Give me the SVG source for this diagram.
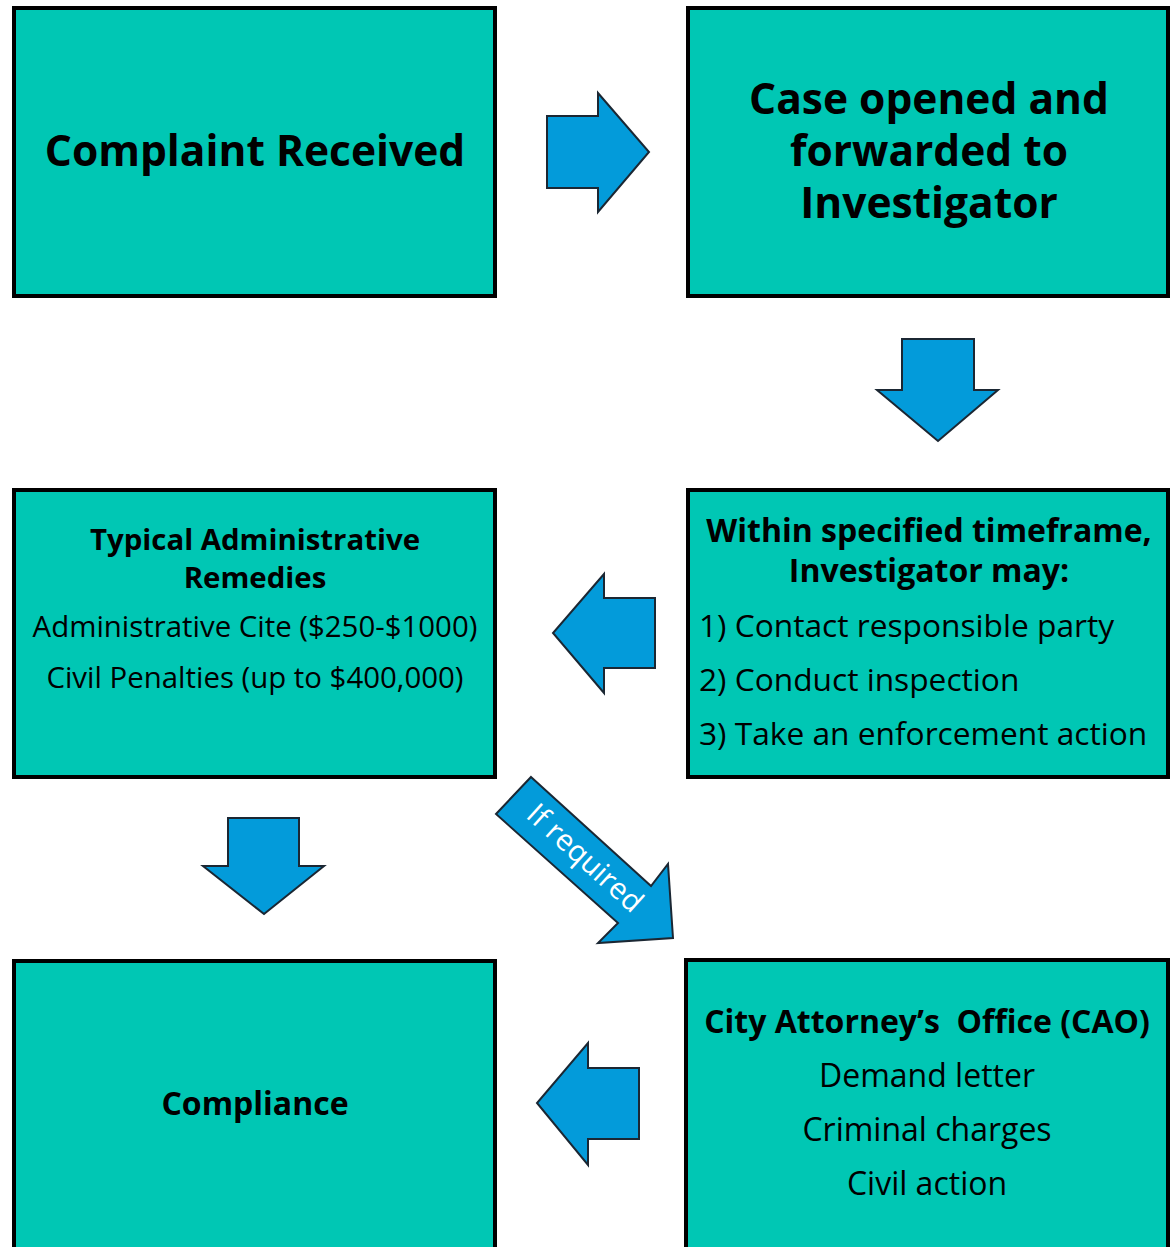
<svg xmlns="http://www.w3.org/2000/svg" width="1170" height="1247" viewBox="0 0 1170 1247">
<style>
.box{fill:#00C7B4;stroke:#000;stroke-width:4}
.arr{fill:#039BDA;stroke:#1b2733;stroke-width:2;stroke-linejoin:miter}
text{font-family:"Open Sans","Noto Sans","DejaVu Sans",sans-serif;fill:#000}
.b{font-weight:bold}
.c{text-anchor:middle}
.h1{font-size:42.5px}
.h2{font-size:29.4px}
.r{font-size:29.4px}
.l{font-size:32px}
.li{font-size:31.7px}
</style>
<rect width="1170" height="1247" fill="#fff"/>
<g id="complaint">
<rect class="box" x="14" y="8" width="481" height="288"/>
<text class="b c h1" x="255" y="166">Complaint Received</text>
</g>
<g id="case-opened">
<rect class="box" x="688" y="8" width="480" height="288"/>
<text class="b c h1" x="929" y="114">Case opened and</text>
<text class="b c h1" x="929" y="166">forwarded to</text>
<text class="b c h1" x="929" y="218">Investigator</text>
</g>
<g id="remedies">
<rect class="box" x="14" y="490" width="481" height="287"/>
<text class="b c h2" x="255" y="550">Typical Administrative</text>
<text class="b c h2" x="255" y="588">Remedies</text>
<text class="c r" x="255" y="637">Administrative Cite ($250-$1000)</text>
<text class="c r" x="255" y="688">Civil Penalties (up to $400,000)</text>
</g>
<g id="investigator">
<rect class="box" x="688" y="490" width="480" height="287"/>
<text class="b c l" x="929" y="542">Within specified timeframe,</text>
<text class="b c l" x="929" y="582">Investigator may:</text>
<text class="li" x="699" y="637">1) Contact responsible party</text>
<text class="li" x="699" y="691">2) Conduct inspection</text>
<text class="li" x="699" y="745">3) Take an enforcement action</text>
</g>
<g id="compliance">
<rect class="box" x="14" y="961" width="481" height="300"/>
<text class="b c l" x="255" y="1115">Compliance</text>
</g>
<g id="cao">
<rect class="box" x="686" y="960" width="482" height="300"/>
<text class="b c l" x="927" y="1033" xml:space="preserve">City Attorney’s  Office (CAO)</text>
<text class="c l" x="927" y="1087">Demand letter</text>
<text class="c l" x="927" y="1141">Criminal charges</text>
<text class="c l" x="927" y="1195">Civil action</text>
</g>
<g id="connectors">
<polygon class="arr" points="547,116 598,116 598,93 649,152 598,212 598,188 547,188"/>
<polygon class="arr" points="902,339 974,339 974,390 998,390 938,441 877,390 902,390"/>
<polygon class="arr" points="655,598 604,598 604,574 553,633 604,693 604,668 655,668"/>
<polygon class="arr" points="228,818 299,818 299,866 324,866 264,914 203,866 228,866"/>
<polygon class="arr" points="639,1068 588,1068 588,1043 537,1103 588,1165 588,1139 639,1139"/>
<polygon class="arr" points="531,777 651,886 668,864 673,938 598,943 618,923 496,814"/>
<text class="c" x="585" y="868" transform="rotate(42.2 585 858)" style="font-size:29.5px;fill:#fff">If required</text>
</g>
</svg>
